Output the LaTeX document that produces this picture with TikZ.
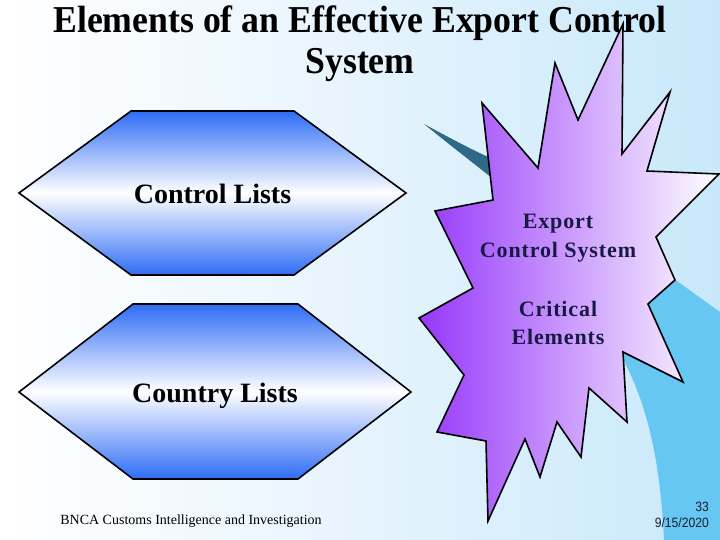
\documentclass[tikz,border=0pt]{standalone}
\usepackage{fontspec}
\setmainfont{Liberation Serif}
\newfontfamily\headfont[FakeStretch=0.94]{Liberation Serif}
\newfontfamily\datefont[FakeStretch=0.9]{Liberation Sans}
\usepackage{xcolor}
\usepackage{tikz}
\usetikzlibrary{positioning}

\definecolor{bgblue}{RGB}{200,232,250}
\definecolor{bgmid}{RGB}{230,244,253}
\definecolor{hexblue}{RGB}{46,108,245}
\definecolor{burstviolet}{RGB}{150,55,250}
\definecolor{swooshblue}{RGB}{102,199,242}
\definecolor{tealdark}{RGB}{47,105,135}
\definecolor{navytext}{RGB}{25,25,70}
\definecolor{footgray}{RGB}{30,30,45}

\tikzset{
  headline/.style={anchor=base, inner sep=0pt, font=\headfont\bfseries\fontsize{38}{40}\selectfont},
  hexbox/.style={draw=black, line width=1.6pt, top color=hexblue, bottom color=hexblue, middle color=white},
  hexlbl/.style={anchor=base, inner sep=0pt, font=\bfseries\fontsize{28}{30}\selectfont},
  burstbox/.style={draw=black, line width=1.6pt, line join=miter, left color=burstviolet, right color=white},
  burstlbl/.style={align=center, inner sep=0pt, text=navytext, font=\bfseries\fontsize{22}{29}\selectfont\addfontfeature{LetterSpace=4}},
  pagelbl/.style={anchor=base east, inner sep=0pt, text=footgray, font=\datefont\fontsize{13.5}{15}\selectfont},
}

\begin{document}
\begin{tikzpicture}[x=1pt, y=-1pt]
  \useasboundingbox (0,0) rectangle (720,540);
  \shade[left color=white, right color=bgblue, middle color=bgmid] (0,0) rectangle (720,540);

  \fill[swooshblue] (645,258) -- (720,312) -- (720,540) -- (664,540) .. controls (660,460) and (648,400) .. (615,345) -- cycle;
  \fill[tealdark] (424,124) .. controls (450,138) and (472,150) .. (495,160) -- (497,182) .. controls (472,162) and (446,142) .. (424,124) -- cycle;

  \node[headline] (head1) at (360,33) {Elements of an Effective Export Control};
  \node[headline] (head2) at (360,74) {System};

  \draw[hexbox] (19,193) -- (131,111) -- (294,111) -- (406,193) -- (294,275) -- (131,275) -- cycle;
  \node[hexlbl] (ctrl) at (212.5,204) {Control Lists};
  \draw[hexbox] (19,392) -- (133,304) -- (298,304) -- (411,392) -- (298,479) -- (133,479) -- cycle;
  \node[hexlbl] (ctry) at (215,402) {Country Lists};

  \draw[burstbox] (623,24) -- (622,154) -- (670,92) -- (647,171) -- (719,174) -- (656,237)
    -- (675,280) -- (648,304) -- (683,382) -- (623,352) -- (627,422) -- (589,388)
    -- (581,457) -- (557,422) -- (540,477) -- (525,439) -- (488,521) -- (486,441)
    -- (437,432) -- (464,375) -- (419,318) -- (473,288) -- (435,211) -- (493,200)
    -- (482,103) -- (538,168) -- (555,63) -- (578,120) -- cycle;
  \node[burstlbl] (ecs) at (558,238.6) {Export\\Control System};
  \node[burstlbl, font=\bfseries\fontsize{22}{28}\selectfont\addfontfeature{LetterSpace=4}] (crit) at (558,322.5) {Critical\\Elements};

  \node[anchor=base, inner sep=0pt, font=\fontsize{14}{16}\selectfont] (foot) at (191,524) {BNCA Customs Intelligence and Investigation};
  \node[pagelbl] (pgno) at (709,511) {33};
  \node[pagelbl] (date) at (709,527) {9/15/2020};
\end{tikzpicture}
\end{document}
